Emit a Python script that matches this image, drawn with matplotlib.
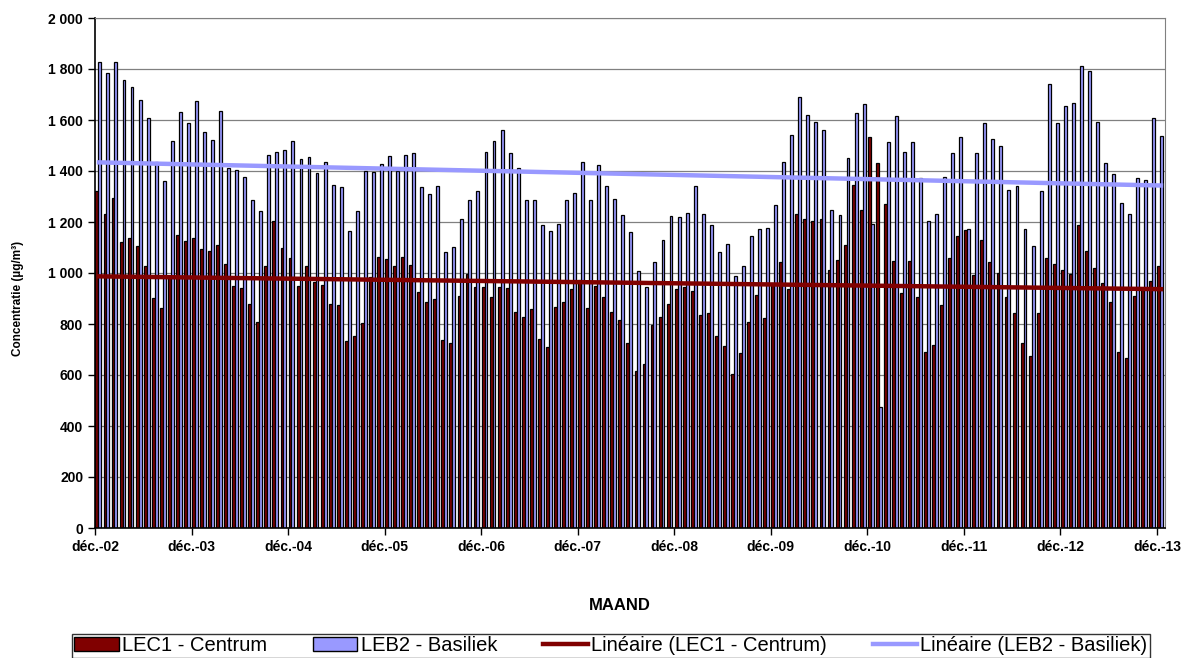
import numpy as np
import matplotlib
matplotlib.use("Agg")
from matplotlib import pyplot as plt
from matplotlib.patches import Patch
from matplotlib.lines import Line2D

plt.rcParams['font.family'] = ['Liberation Sans', 'DejaVu Sans']

# maandgemiddelden dec-2002 .. dec-2013 (133 maanden)
lec1 = [1320, 1233, 1293, 1123, 1139, 1104, 1029, 903, 864, 990, 1149, 1127,
        1136, 1096, 1085, 1109, 1037, 949, 943, 879, 808, 1029, 1203, 1100,
        1060, 949, 1029, 963, 953, 879, 873, 732, 751, 803, 984, 1064,
        1056, 1027, 1064, 1033, 927, 887, 897, 736, 724, 908, 995, 944,
        944, 904, 944, 940, 847, 827, 860, 740, 709, 867, 887, 939,
        973, 864, 949, 904, 849, 816, 727, 616, 643, 797, 827, 880,
        939, 944, 929, 836, 845, 751, 713, 604, 685, 807, 913, 824,
        960, 1045, 939, 1232, 1213, 1203, 1213, 1013, 1050, 1109, 1347, 1249,
        1533, 1431, 1272, 1047, 920, 1048, 907, 689, 717, 876, 1060, 1147,
        1167, 992, 1128, 1044, 1000, 907, 843, 724, 673, 843, 1060, 1037,
        1013, 997, 1187, 1087, 1020, 960, 887, 689, 667, 911, 933, 967,
        1029]
leb2 = [1827, 1783, 1829, 1755, 1731, 1680, 1608, 1436, 1360, 1517, 1631, 1589,
        1676, 1552, 1520, 1636, 1413, 1405, 1376, 1285, 1245, 1461, 1473, 1483,
        1516, 1447, 1453, 1391, 1437, 1347, 1336, 1163, 1245, 1400, 1396, 1429,
        1460, 1400, 1464, 1469, 1336, 1309, 1343, 1083, 1103, 1213, 1285, 1320,
        1473, 1516, 1560, 1469, 1413, 1285, 1287, 1187, 1165, 1191, 1285, 1312,
        1437, 1285, 1423, 1340, 1289, 1227, 1160, 1007, 947, 1045, 1128, 1224,
        1219, 1237, 1340, 1232, 1187, 1083, 1112, 989, 1029, 1147, 1173, 1176,
        1267, 1436, 1540, 1691, 1619, 1592, 1560, 1249, 1227, 1451, 1627, 1663,
        1191, 476, 1513, 1616, 1473, 1513, 1373, 1203, 1231, 1376, 1469, 1532,
        1173, 1469, 1589, 1525, 1499, 1324, 1343, 1171, 1107, 1320, 1741, 1589,
        1656, 1667, 1813, 1791, 1592, 1433, 1387, 1276, 1231, 1373, 1363, 1609,
        1536]
xlabels = ["déc.-02", "déc.-03", "déc.-04", "déc.-05", "déc.-06", "déc.-07",
           "déc.-08", "déc.-09", "déc.-10", "déc.-11", "déc.-12", "déc.-13"]
ylabels = ["0", "200", "400", "600", "800", "1 000", "1 200", "1 400",
           "1 600", "1 800", "2 000"]

red = "#800000"
blue = "#9999FF"

fig = plt.figure(figsize=(11.92, 6.58), dpi=100)
ax = fig.add_axes([95 / 1192, 1 - 528 / 658, 1070 / 1192, 510 / 658])

x = np.arange(len(lec1))
ax.bar(x + 0.24, lec1, width=0.36, color=red, edgecolor="black", linewidth=0.9, zorder=2)
ax.bar(x + 0.60, leb2, width=0.36, color=blue, edgecolor="black", linewidth=0.9, zorder=2)

# lineaire trendlijnen
xc = x + 0.5
p1 = np.polyfit(x, lec1, 1)
p2 = np.polyfit(x, leb2, 1)
ax.plot(xc, np.polyval(p1, x), color=red, lw=3.2, zorder=3)
ax.plot(xc, np.polyval(p2, x), color=blue, lw=3.2, zorder=3)

ax.set_xlim(0, len(lec1))
ax.set_ylim(0, 2000)
ax.set_yticks(np.arange(0, 2001, 200))
ax.set_yticklabels(ylabels, fontsize=10, fontweight="bold")
ax.set_xticks(np.arange(0, len(lec1), 12))
ax.set_xticklabels(xlabels, fontsize=10, fontweight="bold")
ax.tick_params(direction="out", length=5, width=1, colors="black")
ax.grid(axis="y", color="#808080", lw=0.9, zorder=0)
ax.set_axisbelow(True)
for s in ["top", "right"]:
    ax.spines[s].set_color("#808080")
for s in ["left", "bottom"]:
    ax.spines[s].set_color("black")
    ax.spines[s].set_linewidth(1.2)

fig.text(620 / 1192, 1 - 605 / 658, "MAAND", ha="center", va="center",
         fontsize=12, fontweight="bold")
fig.text(18 / 1192, 1 - 298 / 658, "Concentratie (µg/m³)", ha="center", va="center",
         rotation=90, fontsize=8.5, fontweight="bold")

handles = [Patch(facecolor=red, edgecolor="black"),
           Patch(facecolor=blue, edgecolor="black"),
           Line2D([], [], color=red, lw=3.2),
           Line2D([], [], color=blue, lw=3.2)]
names = ["LEC1 - Centrum", "LEB2 - Basiliek",
         "Linéaire (LEC1 - Centrum)", "Linéaire (LEB2 - Basiliek)"]
leg = fig.legend(handles, names, loc="upper left", bbox_to_anchor=(72 / 1192, 1 - 634 / 658),
                 ncol=4, fontsize=14.5, frameon=True, fancybox=False, edgecolor="black",
                 handlelength=2.2, handletextpad=0.15, columnspacing=2.3, borderpad=0.12,
                 borderaxespad=0)
leg.get_frame().set_linewidth(1.0)

plt.savefig("out.png")
